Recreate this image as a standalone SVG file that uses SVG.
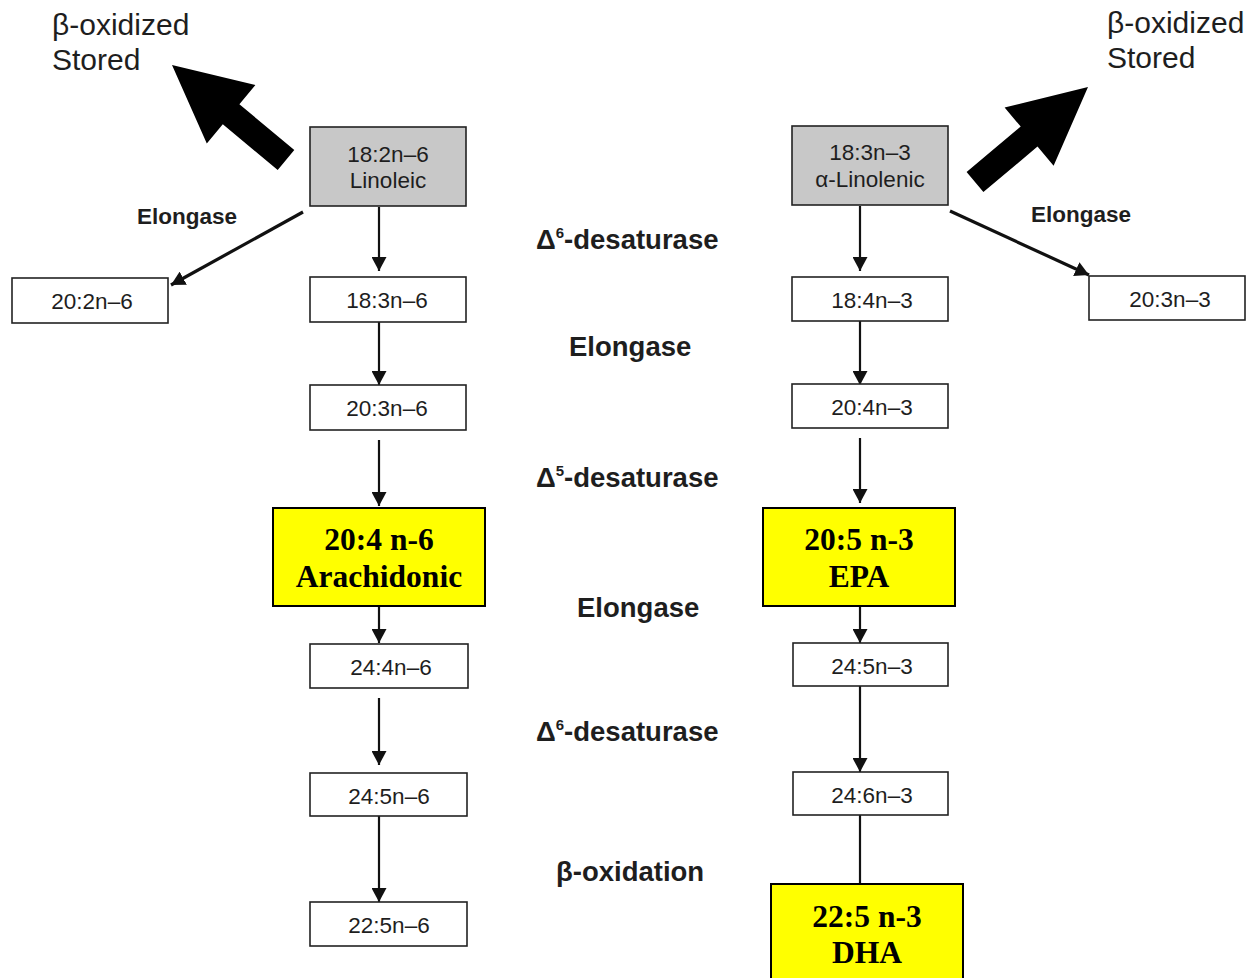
<svg xmlns="http://www.w3.org/2000/svg" width="1250" height="978" viewBox="0 0 1250 978">
  <style>
    .box { fill: #ffffff; stroke: #222222; stroke-width: 1.6; }
    .src { fill: #c8c8c8; stroke: #222222; stroke-width: 1.6; }
    .key { fill: #ffff00; stroke: #000000; stroke-width: 2; }
    .lbl { font-family: "Liberation Sans", Arial, sans-serif; font-size: 22.5px; fill: #1e1e1e; text-anchor: middle; }
    .key-t { font-family: "Liberation Serif", "Times New Roman", serif; font-weight: bold; font-size: 31.5px; fill: #000000; text-anchor: middle; }
    .enz { font-family: "Liberation Sans", Arial, sans-serif; font-weight: bold; font-size: 27.5px; fill: #1e1e1e; }
    .enz-s { font-family: "Liberation Sans", Arial, sans-serif; font-weight: bold; font-size: 22.5px; fill: #1e1e1e; }
    .fate { font-family: "Liberation Sans", Arial, sans-serif; font-size: 30px; fill: #1e1e1e; }
    .conn { stroke: #111111; stroke-width: 2.2; fill: none; }
    .diag { stroke: #111111; stroke-width: 3.2; fill: none; }
  </style>
  <defs>
    <marker id="ah" viewBox="0 0 14 15" refX="14" refY="7.5" markerWidth="14" markerHeight="15" markerUnits="userSpaceOnUse" orient="auto">
      <path d="M0,0 L14,7.5 L0,15 Z" fill="#111111"/>
    </marker>
  </defs>
  <rect width="1250" height="978" fill="#ffffff"/>

  <!-- connectors -->
  <g id="connectors">
    <!-- n-6 pathway -->
    <line class="conn" x1="379" y1="207" x2="379" y2="271" marker-end="url(#ah)"/>
    <line class="conn" x1="379" y1="322" x2="379" y2="385" marker-end="url(#ah)"/>
    <line class="conn" x1="379" y1="440" x2="379" y2="506" marker-end="url(#ah)"/>
    <line class="conn" x1="379" y1="607" x2="379" y2="643" marker-end="url(#ah)"/>
    <line class="conn" x1="379" y1="698" x2="379" y2="765" marker-end="url(#ah)"/>
    <line class="conn" x1="379" y1="816" x2="379" y2="902" marker-end="url(#ah)"/>
    <line class="diag" x1="303" y1="212" x2="171" y2="285" marker-end="url(#ah)"/>
    <!-- n-3 pathway -->
    <line class="conn" x1="860" y1="206" x2="860" y2="271" marker-end="url(#ah)"/>
    <line class="conn" x1="860" y1="321" x2="860" y2="385" marker-end="url(#ah)"/>
    <line class="conn" x1="860" y1="438" x2="860" y2="503" marker-end="url(#ah)"/>
    <line class="conn" x1="860" y1="607" x2="860" y2="643" marker-end="url(#ah)"/>
    <line class="conn" x1="860" y1="686" x2="860" y2="772" marker-end="url(#ah)"/>
    <line class="conn" x1="860" y1="815" x2="860" y2="884"/>
    <line class="diag" x1="950" y1="211" x2="1089" y2="275" marker-end="url(#ah)"/>
    <!-- bulk arrows to oxidation / storage -->
    <polygon points="294.3,150 277.7,170 222.8,124.3 206.8,143.5 172,65 255.4,85.1 239.4,104.3" fill="#000000"/>
    <polygon points="966.6,172 983.4,192 1037.5,146.6 1053.6,165.7 1088,87 1004.6,107.5 1020.7,126.6" fill="#000000"/>
  </g>

  <!-- fate labels -->
  <g id="fate-left">
    <text class="fate" x="52" y="35">β-oxidized</text>
    <text class="fate" x="52" y="70">Stored</text>
  </g>
  <g id="fate-right">
    <text class="fate" x="1107" y="33">β-oxidized</text>
    <text class="fate" x="1107" y="68">Stored</text>
  </g>

  <!-- enzyme labels -->
  <g id="enzymes">
    <text class="enz-s" x="137" y="224">Elongase</text>
    <text class="enz-s" x="1031" y="222">Elongase</text>
    <text class="enz" x="536" y="249">Δ<tspan dy="-11" font-size="15">6</tspan><tspan dy="11">-desaturase</tspan></text>
    <text class="enz" x="569" y="356">Elongase</text>
    <text class="enz" x="536" y="487">Δ<tspan dy="-11" font-size="15">5</tspan><tspan dy="11">-desaturase</tspan></text>
    <text class="enz" x="577" y="617">Elongase</text>
    <text class="enz" x="536" y="741">Δ<tspan dy="-11" font-size="15">6</tspan><tspan dy="11">-desaturase</tspan></text>
    <text class="enz" x="556" y="881">β-oxidation</text>
  </g>

  <!-- n-6 nodes -->
  <g id="n6-linoleic">
    <rect class="src" x="310" y="127" width="156" height="79"/>
    <text class="lbl" x="388" y="162">18:2n–6</text>
    <text class="lbl" x="388" y="188">Linoleic</text>
  </g>
  <g id="n6-20-2">
    <rect class="box" x="12" y="278" width="156" height="45"/>
    <text class="lbl" x="92" y="309">20:2n–6</text>
  </g>
  <g id="n6-18-3">
    <rect class="box" x="310" y="277" width="156" height="45"/>
    <text class="lbl" x="387" y="308">18:3n–6</text>
  </g>
  <g id="n6-20-3">
    <rect class="box" x="310" y="385" width="156" height="45"/>
    <text class="lbl" x="387" y="416">20:3n–6</text>
  </g>
  <g id="n6-arachidonic">
    <rect class="key" x="273" y="508" width="212" height="98"/>
    <text class="key-t" x="379" y="550">20:4 n-6</text>
    <text class="key-t" x="379" y="587">Arachidonic</text>
  </g>
  <g id="n6-24-4">
    <rect class="box" x="310" y="644" width="158" height="44"/>
    <text class="lbl" x="391" y="675">24:4n–6</text>
  </g>
  <g id="n6-24-5">
    <rect class="box" x="310" y="773" width="157" height="43"/>
    <text class="lbl" x="389" y="804">24:5n–6</text>
  </g>
  <g id="n6-22-5">
    <rect class="box" x="310" y="902" width="157" height="44"/>
    <text class="lbl" x="389" y="933">22:5n–6</text>
  </g>

  <!-- n-3 nodes -->
  <g id="n3-linolenic">
    <rect class="src" x="792" y="126" width="156" height="79"/>
    <text class="lbl" x="870" y="160">18:3n–3</text>
    <text class="lbl" x="870" y="187">α-Linolenic</text>
  </g>
  <g id="n3-18-4">
    <rect class="box" x="792" y="277" width="156" height="44"/>
    <text class="lbl" x="872" y="308">18:4n–3</text>
  </g>
  <g id="n3-20-3">
    <rect class="box" x="1089" y="276" width="156" height="44"/>
    <text class="lbl" x="1170" y="307">20:3n–3</text>
  </g>
  <g id="n3-20-4">
    <rect class="box" x="792" y="384" width="156" height="44"/>
    <text class="lbl" x="872" y="415">20:4n–3</text>
  </g>
  <g id="n3-epa">
    <rect class="key" x="763" y="508" width="192" height="98"/>
    <text class="key-t" x="859" y="550">20:5 n-3</text>
    <text class="key-t" x="859" y="587">EPA</text>
  </g>
  <g id="n3-24-5">
    <rect class="box" x="793" y="643" width="155" height="43"/>
    <text class="lbl" x="872" y="674">24:5n–3</text>
  </g>
  <g id="n3-24-6">
    <rect class="box" x="793" y="772" width="155" height="43"/>
    <text class="lbl" x="872" y="803">24:6n–3</text>
  </g>
  <g id="n3-dha">
    <rect class="key" x="771" y="884" width="192" height="100"/>
    <text class="key-t" x="867" y="927">22:5 n-3</text>
    <text class="key-t" x="867" y="963">DHA</text>
  </g>
</svg>
